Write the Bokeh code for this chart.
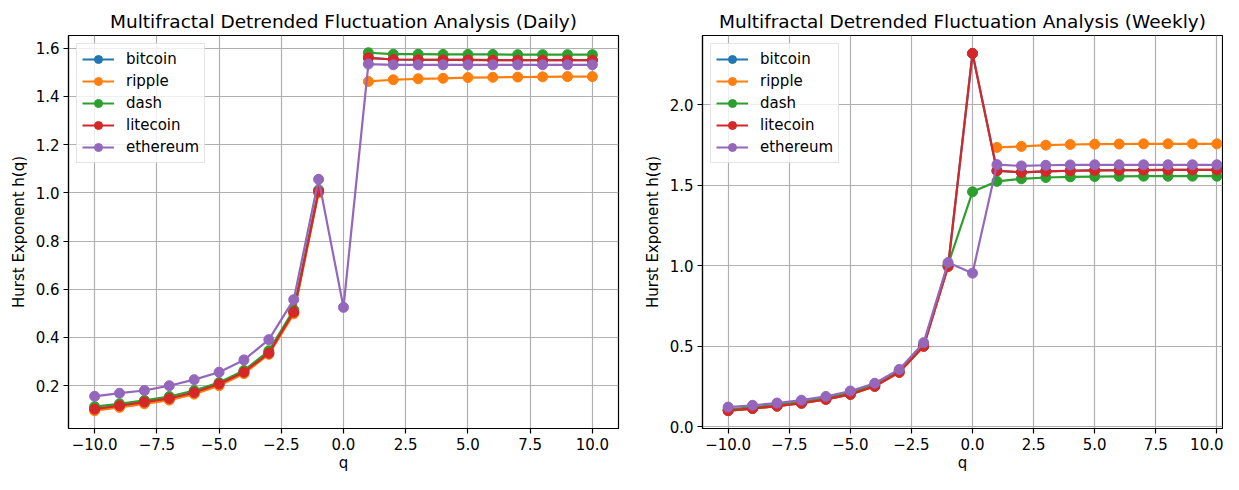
import numpy as np
from bokeh.plotting import figure
from bokeh.layouts import row
from bokeh.models import ColumnDataSource, FixedTicker, Range1d
from bokeh.embed import file_html
from bokeh.resources import INLINE

nan = float("nan")

# ---------------- data ----------------
q = [-10, -9, -8, -7, -6, -5, -4, -3, -2, -1, 0, 1, 2, 3, 4, 5, 6, 7, 8, 9, 10]
names = ["bitcoin", "ripple", "dash", "litecoin", "ethereum"]
colors = ["#1f77b4", "#ff7f0e", "#2ca02c", "#d62728", "#9467bd"]

# Daily h(q)
daily_bitcoin = [0.103, 0.117, 0.132, 0.147, 0.172, 0.207, 0.256, 0.335, 0.505, 1.006, nan,
                 1.560, 1.553, 1.552, 1.551, 1.551, 1.550, 1.550, 1.550, 1.550, 1.550]
daily_ripple = [0.096, 0.110, 0.125, 0.140, 0.165, 0.200, 0.250, 0.330, 0.498, 1.000, nan,
                1.462, 1.469, 1.473, 1.475, 1.478, 1.479, 1.480, 1.481, 1.482, 1.482]
daily_dash = [0.113, 0.125, 0.139, 0.155, 0.180, 0.213, 0.263, 0.345, 0.515, 1.012, nan,
              1.581, 1.575, 1.575, 1.574, 1.574, 1.574, 1.573, 1.573, 1.573, 1.573]
daily_litecoin = [0.103, 0.117, 0.132, 0.147, 0.172, 0.207, 0.256, 0.335, 0.505, 1.006, nan,
                  1.560, 1.553, 1.552, 1.551, 1.551, 1.550, 1.550, 1.550, 1.550, 1.550]
daily_ethereum = [0.156, 0.169, 0.180, 0.200, 0.225, 0.256, 0.307, 0.391, 0.557, 1.056, 0.525,
                  1.534, 1.531, 1.531, 1.531, 1.531, 1.531, 1.531, 1.531, 1.531, 1.531]

# Weekly h(q)
weekly_bitcoin = [0.100, 0.113, 0.128, 0.146, 0.170, 0.201, 0.251, 0.338, 0.500, 0.996, 2.319,
                  1.590, 1.580, 1.586, 1.590, 1.592, 1.593, 1.594, 1.595, 1.595, 1.595]
weekly_ripple = [0.100, 0.113, 0.128, 0.146, 0.170, 0.201, 0.251, 0.338, 0.500, 0.996, nan,
                 1.735, 1.741, 1.749, 1.753, 1.755, 1.756, 1.757, 1.757, 1.757, 1.757]
weekly_dash = [0.108, 0.121, 0.136, 0.154, 0.178, 0.210, 0.260, 0.346, 0.510, 1.008, 1.459,
               1.524, 1.540, 1.548, 1.552, 1.554, 1.555, 1.556, 1.556, 1.556, 1.556]
weekly_litecoin = [0.100, 0.113, 0.128, 0.146, 0.170, 0.201, 0.251, 0.338, 0.500, 0.996, 2.319,
                   1.590, 1.580, 1.586, 1.590, 1.592, 1.593, 1.594, 1.595, 1.595, 1.595]
weekly_ethereum = [0.122, 0.133, 0.147, 0.165, 0.188, 0.222, 0.270, 0.356, 0.522, 1.020, 0.954,
                   1.628, 1.620, 1.624, 1.626, 1.627, 1.627, 1.627, 1.627, 1.627, 1.627]

x_ticks = [-10.0, -7.5, -5.0, -2.5, 0.0, 2.5, 5.0, 7.5, 10.0]
x_tick_labels = ["\u221210.0", "\u22127.5", "\u22125.0", "\u22122.5", "0.0", "2.5", "5.0", "7.5", "10.0"]
daily_y_ticks = [0.2, 0.4, 0.6, 0.8, 1.0, 1.2, 1.4, 1.6]
daily_y_tick_labels = ["0.2", "0.4", "0.6", "0.8", "1.0", "1.2", "1.4", "1.6"]
weekly_y_ticks = [0.0, 0.5, 1.0, 1.5, 2.0]
weekly_y_tick_labels = ["0.0", "0.5", "1.0", "1.5", "2.0"]

title_daily = "Multifractal Detrended Fluctuation Analysis (Daily)"
title_weekly = "Multifractal Detrended Fluctuation Analysis (Weekly)"
x_label = "q"
y_label = "Hurst Exponent h(q)"

FONT = "DejaVu Sans"


def make_fig(title, series, yticks, ylabels, xr, yr, width, height, borders):
    p = figure(width=width, height=height, output_backend="svg", toolbar_location=None,
               x_range=Range1d(*xr), y_range=Range1d(*yr),
               min_border_left=borders[0], min_border_right=borders[1],
               min_border_top=borders[2], min_border_bottom=borders[3])
    p.title.text = title
    p.title.text_font = FONT
    p.title.text_font_size = "18.5px"
    p.title.text_font_style = "normal"
    p.title.align = "center"
    p.title.standoff = 8
    p.title.text_color = "#000000"

    for name, col, vals in zip(names, colors, series):
        src = ColumnDataSource(dict(q=np.array(q, dtype=float), h=np.array(vals, dtype=float)))
        p.line("q", "h", source=src, line_color=col, line_width=2.2, legend_label=name)
        p.scatter("q", "h", source=src, size=10, fill_color=col, line_color=col,
                  legend_label=name)

    p.xaxis.ticker = FixedTicker(ticks=x_ticks)
    p.xaxis.major_label_overrides = {t: l for t, l in zip(x_ticks, x_tick_labels)}
    p.yaxis.ticker = FixedTicker(ticks=yticks)
    p.yaxis.major_label_overrides = {t: l for t, l in zip(yticks, ylabels)}
    for ax in (p.xaxis, p.yaxis):
        ax.major_label_text_font = FONT
        ax.major_label_text_font_size = "15px"
        ax.major_label_text_color = "#000000"
        ax.axis_label_text_font = FONT
        ax.axis_label_text_font_size = "15px"
        ax.axis_label_text_font_style = "normal"
        ax.axis_label_text_color = "#000000"
        ax.major_tick_out = 5
        ax.major_tick_in = 0
        ax.minor_tick_line_color = None
        ax.axis_line_color = "#000000"
        ax.axis_line_width = 1.2
        ax.major_tick_line_width = 1.2
        ax.major_label_standoff = 4
    p.xaxis.axis_label = x_label
    p.yaxis.axis_label = y_label
    p.xaxis.axis_label_standoff = 1
    p.yaxis.axis_label_standoff = 5

    p.grid.grid_line_color = "#b0b0b0"
    p.grid.grid_line_width = 1.2
    p.outline_line_color = "#000000"
    p.outline_line_width = 1.2
    p.background_fill_color = "#ffffff"
    p.border_fill_color = "#ffffff"

    lg = p.legend[0]
    lg.location = "top_left"
    lg.margin = 8
    lg.padding = 5
    lg.spacing = 2
    lg.label_standoff = 12
    lg.glyph_width = 32
    lg.glyph_height = 20
    lg.label_height = 20
    lg.label_text_font = FONT
    lg.label_text_font_size = "15px"
    lg.label_text_color = "#000000"
    lg.border_line_color = "#cccccc"
    lg.border_line_width = 1
    lg.background_fill_alpha = 0.8
    return p


p1 = make_fig(title_daily,
              [daily_bitcoin, daily_ripple, daily_dash, daily_litecoin, daily_ethereum],
              daily_y_ticks, daily_y_tick_labels,
              (-11.05, 11.05), (0.0225, 1.6525),
              640, 474, (68, 22, 33, 34))
p2 = make_fig(title_weekly,
              [weekly_bitcoin, weekly_ripple, weekly_dash, weekly_litecoin, weekly_ethereum],
              weekly_y_ticks, weekly_y_tick_labels,
              (-11.05, 10.23), (-0.011, 2.43),
              583, 474, (60, 1, 35, 36))

layout = row(p1, p2)
open("out.html", "w").write(file_html(layout, INLINE))
